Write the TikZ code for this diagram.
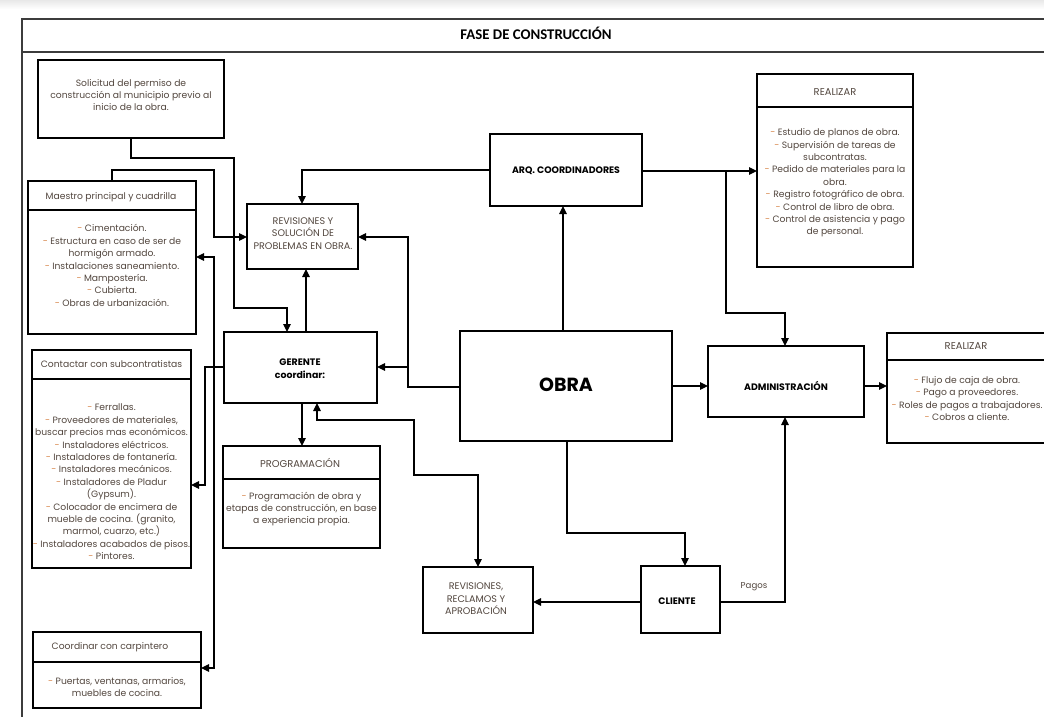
\documentclass[tikz,border=0pt]{standalone}
\usepackage{fontspec}
\setmainfont{Poppins}
\newfontfamily\titlefont{Carlito}
\usetikzlibrary{arrows.meta}
\definecolor{bodytext}{RGB}{82,70,62}
\definecolor{dashcol}{RGB}{214,132,72}
\definecolor{framegray}{RGB}{60,60,60}
\newcommand{\itm}{\textcolor{dashcol}{-}\ }
\begin{document}
\begin{tikzpicture}[x=1pt,y=-1pt,
  box/.style={draw, line width=1.2pt, inner sep=0pt, outer sep=0pt, anchor=north west},
  lbl/.style={inner sep=0pt, align=center, text=bodytext, font=\fontsize{9.2}{12.4}\selectfont},
  headl/.style={inner sep=0pt, align=center, text=bodytext, font=\fontsize{9.9}{12.4}\selectfont},
  capl/.style={inner sep=0pt, align=center, text=bodytext, font=\fontsize{9.6}{12.6}\selectfont},
  boldl/.style={inner sep=0pt, align=center, text=black, font=\bfseries\fontsize{9.4}{13}\selectfont},
  conn/.style={line width=1.2pt, -{Triangle[length=8pt,width=7.5pt]}},
  bothconn/.style={line width=1.2pt, {Triangle[length=8pt,width=7.5pt]}-{Triangle[length=8pt,width=7.5pt]}}
]
\useasboundingbox (0,0) rectangle (1044,717);
\shade[top color=gray!18, bottom color=white] (0,0) rectangle (1044,9);

% outer frame with title row
\draw[framegray, line width=1.8pt] (1050,19) -- (22,19) -- (22,52) -- (1050,52);
\draw[framegray, line width=1.4pt] (22,52) -- (22,720);
\node[inner sep=0pt, font=\titlefont\bfseries\fontsize{14.8}{16}\selectfont] (title) at (536,33) {FASE DE CONSTRUCCIÓN};

% plain boxes
\node[box, minimum width=186pt, minimum height=78pt] (solic) at (38,60) {};
\node[lbl] (solicT) at (131,95) {Solicitud del permiso de\\construcción al municipio previo al\\inicio de la obra.};

\node[box, minimum width=111pt, minimum height=65pt] (revis) at (247,204) {};
\node[capl] (revisT) at (303,233.5) {REVISIONES Y\\SOLUCIÓN DE\\PROBLEMAS EN OBRA.};

\node[box, minimum width=153pt, minimum height=71pt] (gerente) at (224,332) {};
\node[boldl] (gerenteT) at (300,368.5) {GERENTE\\coordinar:};

\node[box, minimum width=152pt, minimum height=72pt] (arq) at (490,134) {};
\node[boldl] (arqT) at (566,171) {ARQ. COORDINADORES};

\node[box, minimum width=212pt, minimum height=110pt] (obra) at (460,331) {};
\node[inner sep=0pt, font=\bfseries\fontsize{19}{22}\selectfont] (obraT) at (566,385) {OBRA};

\node[box, minimum width=156pt, minimum height=71pt] (admin) at (708,346) {};
\node[boldl] (adminT) at (786,386) {ADMINISTRACIÓN};

\node[box, minimum width=110pt, minimum height=66pt] (reclam) at (423,567) {};
\node[capl] (reclamT) at (476,599) {REVISIONES,\\RECLAMOS Y\\APROBACIÓN};

\node[box, minimum width=79pt, minimum height=67pt] (cliente) at (641,566) {};
\node[boldl] (clienteT) at (677,601) {CLIENTE};

% boxes with a header row
\node[box, minimum width=168pt, minimum height=29pt] (maestroH) at (28,181) {};
\node[box, minimum width=168pt, minimum height=124pt] (maestroB) at (28,210) {};
\node[lbl] (maestroHT) at (111,197) {Maestro principal y cuadrilla};
\node[lbl] (maestroBT) at (112,265.5) {\itm Cimentación.\\\itm Estructura en caso de ser de\\hormigón armado.\\\itm Instalaciones saneamiento.\\\itm Mampostería.\\\itm Cubierta.\\\itm Obras de urbanización.};

\node[box, minimum width=159pt, minimum height=29pt] (contH) at (32,350) {};
\node[box, minimum width=159pt, minimum height=189pt] (contB) at (32,379) {};
\node[lbl] (contHT) at (111.5,364) {Contactar con subcontratistas};
\node[lbl] (contBT) at (111.5,482) {\itm Ferrallas.\\\itm Proveedores de materiales,\\buscar precios mas económicos.\\\itm Instaladores eléctricos.\\\itm Instaladores de fontanería.\\\itm Instaladores mecánicos.\\\itm Instaladores de Pladur\\(Gypsum).\\\itm Colocador de encimera de\\mueble de cocina. (granito,\\marmol, cuarzo, etc.)\\\itm Instaladores acabados de pisos.\\\itm Pintores.};

\node[box, minimum width=168pt, minimum height=30pt] (carpH) at (33,632) {};
\node[box, minimum width=168pt, minimum height=46pt] (carpB) at (33,662) {};
\node[lbl] (carpHT) at (110,647) {Coordinar con carpintero};
\node[lbl] (carpBT) at (117,687) {\itm Puertas, ventanas, armarios,\\muebles de cocina.};

\node[box, minimum width=157pt, minimum height=33pt] (progH) at (223,446) {};
\node[box, minimum width=157pt, minimum height=69pt] (progB) at (223,479) {};
\node[headl] (progHT) at (300,463) {PROGRAMACIÓN};
\node[lbl] (progBT) at (301.5,509) {\itm Programación de obra y\\etapas de construcción, en base\\a experiencia propia.};

\node[box, minimum width=156pt, minimum height=33pt] (realTH) at (757,74) {};
\node[box, minimum width=156pt, minimum height=160pt] (realTB) at (757,107) {};
\node[headl] (realTHT) at (835,92) {REALIZAR};
\node[lbl] (realTBT) at (835,183) {\itm Estudio de planos de obra.\\\itm Supervisión de tareas de\\subcontratas.\\\itm Pedido de materiales para la\\obra.\\\itm Registro fotográfico de obra.\\\itm Control de libro de obra.\\\itm Control de asistencia y pago\\de personal.};

\node[box, minimum width=163pt, minimum height=27pt] (realRH) at (887,333) {};
\node[box, minimum width=163pt, minimum height=83pt] (realRB) at (887,360) {};
\node[headl] (realRHT) at (966,346) {REALIZAR};
\node[lbl] (realRBT) at (967,398.5) {\itm Flujo de caja de obra.\\\itm Pago a proveedores.\\\itm Roles de pagos a trabajadores.\\\itm Cobros a cliente.};

% connectors
\draw[conn] (solic.south) -- (131,158) -- (234,158) -- (234,308) -- (287,308) -- (287,0 |- gerente.north);
\draw[conn] (maestroH.north) -- (112,170) -- (214,170) -- (214,237) -- (0,237 -| revis.west);

\draw[conn] (0,367 -| gerente.west) -- (205,367) -- (205,485) -- (0,485 -| contB.east);
\draw[conn] (214,367) -- (214,257) -- (0,257 -| maestroB.east);
\draw[conn] (214,367) -- (214,668) -- (0,668 -| carpB.east);

\draw[conn] (0,170 -| arq.west) -- (302,170) -- (302,0 |- revis.north);
\draw[conn] (306,0 |- gerente.north) -- (306,0 |- revis.south);

\draw[conn] (0,387 -| obra.west) -- (408,387) -- (408,237) -- (0,237 -| revis.east);
\draw[conn] (408,367) -- (0,367 -| gerente.east);

\draw[conn] (302,0 |- gerente.south) -- (302,0 |- progH.north);
\draw[bothconn] (317,0 |- gerente.south) -- (317,420) -- (414,420) -- (414,475) -- (478,475) -- (478,0 |- reclam.north);

\draw[conn] (563,0 |- obra.north) -- (563,0 |- arq.south);
\draw[conn] (0,171 -| arq.east) -- (0,171 -| realTB.west);
\draw[conn] (726,171) -- (726,313) -- (785,313) -- (785,0 |- admin.north);

\draw[conn] (0,386 -| obra.east) -- (0,386 -| admin.west);
\draw[conn] (0,386 -| admin.east) -- (0,386 -| realRB.west);

\draw[conn] (567,0 |- obra.south) -- (567,533) -- (685,533) -- (685,0 |- cliente.north);
\draw[conn] (0,602 -| cliente.west) -- (0,602 -| reclam.east);
\draw[conn] (0,602 -| cliente.east) -- (785,602) -- (785,0 |- admin.south);
\node[lbl, font=\fontsize{8.6}{12}\selectfont] (pagos) at (754,587) {Pagos};
\end{tikzpicture}
\end{document}
